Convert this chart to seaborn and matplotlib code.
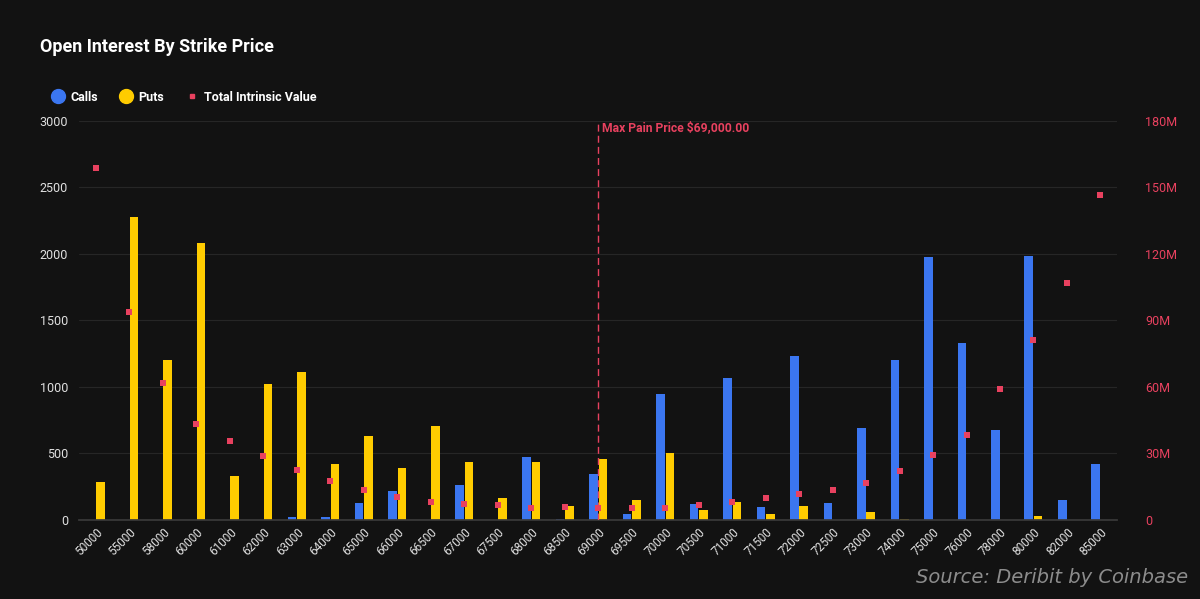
import pandas as pd
import matplotlib.pyplot as plt
import seaborn as sns
from matplotlib.lines import Line2D
from matplotlib.ticker import FuncFormatter

# Data
strikes = [50000, 55000, 58000, 60000, 61000, 62000, 63000, 64000, 65000, 66000,
           66500, 67000, 67500, 68000, 68500, 69000, 69500, 70000, 70500, 71000,
           71500, 72000, 72500, 73000, 74000, 75000, 76000, 78000, 80000, 82000, 85000]
calls = [0, 0, 0, 0, 0, 0, 22, 22, 125, 218,
         0, 262, 0, 474, 10, 346, 45, 947, 120, 1068,
         98, 1233, 128, 692, 1203, 1977, 1331, 677, 1985, 150, 421]
puts = [286, 2280, 1203, 2083, 333, 1022, 1112, 421, 631, 391,
        705, 436, 165, 436, 105, 458, 150, 502, 75, 135,
        45, 105, 0, 60, 10, 0, 0, 0, 30, 0, 0]
intrinsic = [159.0, 93.8, 61.8, 43.3, 35.6, 28.9, 22.6, 17.6, 13.5, 10.4,
             8.3, 7.2, 6.8, 5.4, 5.9, 5.4, 5.4, 5.4, 6.8, 8.1,
             9.9, 11.7, 13.5, 16.7, 22.0, 29.3, 38.3, 59.0, 81.0, 107.0, 146.6]
max_pain = 69000

BG = "#121212"
BLUE = "#3b76f0"
YELLOW = "#ffcc00"
RED = "#e8415f"

sns.set_theme(style="dark")
plt.rcParams["font.family"] = ["Roboto", "DejaVu Sans"]

labels = [str(s) for s in strikes]
df = pd.DataFrame({"strike": labels * 2,
                   "oi": calls + puts,
                   "type": ["Calls"] * len(labels) + ["Puts"] * len(labels)})

fig = plt.figure(figsize=(12, 5.99), dpi=100, facecolor=BG)
ax = fig.add_axes([0.066, 0.132, 0.865, 0.666])
ax.set_facecolor(BG)

sns.barplot(data=df, x="strike", y="oi", hue="type", order=labels,
            palette={"Calls": BLUE, "Puts": YELLOW}, width=0.56, gap=0.08,
            saturation=1, linewidth=0, ax=ax, legend=False)

ax.set_ylim(0, 3000)
ax.set_yticks(range(0, 3001, 500))
ax.set_xlim(-0.5, len(labels) - 0.5)
ax.grid(axis="y", color="#262626", linewidth=0.8)
ax.grid(axis="x", visible=False)
ax.set_axisbelow(True)
for side in ["top", "left", "right"]:
    ax.spines[side].set_visible(False)
ax.spines["bottom"].set_color("#3a3a3a")
ax.tick_params(axis="y", colors="#e0e0e0", labelsize=9, length=0, pad=8)
ax.tick_params(axis="x", colors="#e0e0e0", labelsize=8.5, length=0, pad=4)
plt.setp(ax.get_xticklabels(), rotation=45, ha="right", rotation_mode="anchor")
ax.set_xlabel("")
ax.set_ylabel("")

# Total intrinsic value on right axis
ax2 = ax.twinx()
sns.stripplot(x=labels, y=intrinsic, order=labels, jitter=False, marker="s",
              size=4, color=RED, ax=ax2, zorder=5)
ax2.set_xlim(-0.5, len(labels) - 0.5)
ax2.set_ylim(0, 180)
ax2.set_yticks(range(0, 181, 30))
ax2.yaxis.set_major_formatter(FuncFormatter(lambda v, p: "0" if v == 0 else f"{int(v)}M"))
ax2.tick_params(axis="y", colors=RED, labelsize=9, length=0, pad=20)
ax2.grid(False)
for side in ["top", "left", "right", "bottom"]:
    ax2.spines[side].set_visible(False)

# Max pain marker
mp = labels.index(str(max_pain))
ax.axvline(mp, color=RED, linestyle=(0, (5, 3)), linewidth=1, zorder=4)
ax.text(mp + 0.12, 2950, f"Max Pain Price ${max_pain:,.2f}", color=RED,
        fontsize=8.7, fontweight="bold", va="center", ha="left")

fig.text(0.033, 0.921, "Open Interest By Strike Price", color="white",
         fontsize=13, fontweight="bold", va="center", ha="left")

handles = [Line2D([], [], marker="o", linestyle="", markersize=10, color=BLUE),
           Line2D([], [], marker="o", linestyle="", markersize=10, color=YELLOW),
           Line2D([], [], marker="s", linestyle="", markersize=3.5, color=RED)]
leg = fig.legend(handles, ["Calls", "Puts", "Total Intrinsic Value"], ncol=3,
                 loc="center left", bbox_to_anchor=(0.033, 0.838), frameon=False,
                 handletextpad=0.4, columnspacing=1.6, handlelength=1.2,
                 prop={"weight": "bold", "size": 9})
for t in leg.get_texts():
    t.set_color("white")

fig.text(0.99, 0.036, "Source: Deribit by Coinbase", color="#8c8c8c",
         fontsize=14, style="italic", family="DejaVu Sans", ha="right", va="center")

fig.savefig("out.png", facecolor=BG)
